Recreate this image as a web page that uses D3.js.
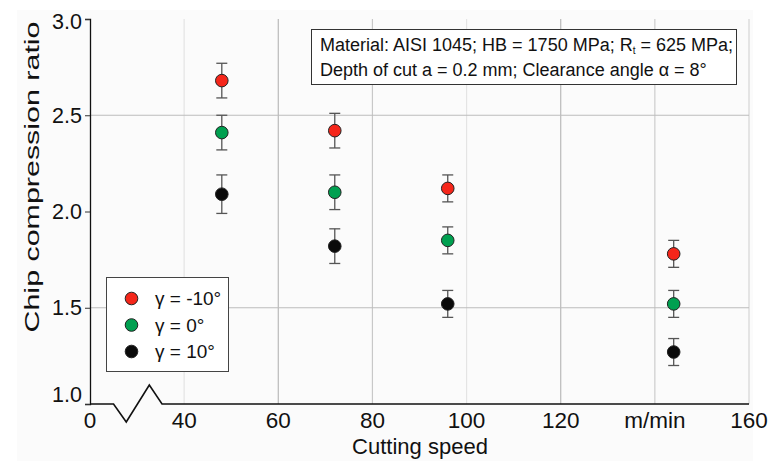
<!DOCTYPE html>
<html><head><meta charset="utf-8">
<script src="https://cdn.jsdelivr.net/npm/d3@7"></script>
<style>body{margin:0;background:#fff}svg{display:block}text{font-family:Arial,"Liberation Sans",sans-serif;fill:#111}</style>
</head><body><svg id="c" width="768" height="466"></svg>
<script>
const speeds = [48, 72, 96, 144];
const ratioNeg10 = [2.68, 2.42, 2.12, 1.78];
const errNeg10 = [0.09, 0.09, 0.07, 0.07];
const ratio0 = [2.41, 2.10, 1.85, 1.52];
const err0 = [0.09, 0.09, 0.07, 0.07];
const ratio10 = [2.09, 1.82, 1.52, 1.27];
const err10 = [0.10, 0.09, 0.07, 0.07];
const seriesNames = ["γ = -10°", "γ = 0°", "γ = 10°"];
const seriesColors = ["#f5261a", "#00a050", "#0a0a0a"];
const xTickValues = [20, 40, 60, 80, 100, 120, 140, 160];
const xTickLabels = ["0", "40", "60", "80", "100", "120", "m/min", "160"];
const yTickValues = [1.0, 1.5, 2.0, 2.5, 3.0];
const yTickLabels = ["1.0", "1.5", "2.0", "2.5", "3.0"];
const yGridValues = [1.5, 2.5];

const svg = d3.select("#c");
const x = d3.scaleLinear().domain([20, 160]).range([90, 749]);
const y = d3.scaleLinear().domain([1, 3]).range([404, 19]);

svg.append("rect").attr("x", 17).attr("y", 10).attr("width", 736).attr("height", 451).attr("fill", "#fbfbfb");

// vertical gridlines
const vGridColor = {40: "#e4e4e4", 60: "#b9b9b9", 80: "#c8c8c8", 100: "#e4e4e4", 120: "#b9b9b9", 140: "#cccccc", 160: "#d6d6d6"};
svg.append("g").selectAll("line").data(xTickValues.filter(v => v > 20)).join("line")
  .attr("x1", d => x(d)).attr("x2", d => x(d)).attr("y1", y(3)).attr("y2", y(1))
  .attr("stroke", d => vGridColor[d]).attr("stroke-width", 1.2);
// horizontal gridlines
svg.append("g").selectAll("line").data(yGridValues).join("line")
  .attr("x1", x(20)).attr("x2", x(160)).attr("y1", d => y(d)).attr("y2", d => y(d))
  .attr("stroke", "#bdbdbd").attr("stroke-width", 1.2);

// y axis
const yAxis = d3.axisLeft(y).tickValues(yTickValues).tickFormat((d, i) => yTickLabels[i]).tickSize(5).tickPadding(3);
const gy = svg.append("g").attr("transform", `translate(${x(20)},0)`).call(yAxis);
gy.select(".domain").attr("stroke", "#111").attr("stroke-width", 1.3);
gy.selectAll(".tick line").attr("stroke", "#333");
gy.selectAll(".tick text").attr("font-size", 21.5).attr("fill", "#111")
  .attr("dy", d => d === 1 ? "-0.1em" : d === 3 ? "0.42em" : "0.32em");

// x axis line with break
const bx = [x(20), x(25), x(27.7), x(32.6), x(35.3), x(160)];
const by = [y(1), y(1), y(1) + 18, y(1) - 19, y(1), y(1)];
svg.append("path").attr("d", d3.line()(bx.map((v, i) => [v, by[i]])))
  .attr("fill", "none").attr("stroke", "#111").attr("stroke-width", 1.6).attr("stroke-linejoin", "miter");

// x tick labels
svg.append("g").selectAll("text").data(xTickValues).join("text")
  .attr("x", d => x(d)).attr("y", 428).attr("text-anchor", "middle").attr("font-size", 22.5)
  .text((d, i) => xTickLabels[i]);

// axis titles
svg.append("text").attr("x", 420).attr("y", 454).attr("text-anchor", "middle").attr("font-size", 22).text("Cutting speed");
svg.append("text").attr("transform", "translate(39,177) rotate(-90)").attr("text-anchor", "middle")
  .attr("font-size", 19.5).attr("textLength", 311).attr("lengthAdjust", "spacingAndGlyphs").text("Chip compression ratio");

// data
const series = [
  {vals: ratioNeg10, errs: errNeg10},
  {vals: ratio0, errs: err0},
  {vals: ratio10, errs: err10}
];
series.forEach((s, si) => {
  const g = svg.append("g");
  const pts = speeds.map((v, i) => ({x: v, y: s.vals[i], e: s.errs[i]}));
  g.selectAll("line.eb").data(pts).join("line").attr("class", "eb")
    .attr("x1", d => x(d.x)).attr("x2", d => x(d.x)).attr("y1", d => y(d.y - d.e)).attr("y2", d => y(d.y + d.e))
    .attr("stroke", "#555").attr("stroke-width", 1.3);
  ["lo", "hi"].forEach(k => {
    g.selectAll("line." + k).data(pts).join("line").attr("class", k)
      .attr("x1", d => x(d.x) - 5.5).attr("x2", d => x(d.x) + 5.5)
      .attr("y1", d => y(k === "lo" ? d.y - d.e : d.y + d.e)).attr("y2", d => y(k === "lo" ? d.y - d.e : d.y + d.e))
      .attr("stroke", "#555").attr("stroke-width", 1.3);
  });
  g.selectAll("circle").data(pts).join("circle")
    .attr("cx", d => x(d.x)).attr("cy", d => y(d.y)).attr("r", 6.3)
    .attr("fill", seriesColors[si]).attr("stroke", "#222").attr("stroke-width", 1);
});

// info box
const ib = svg.append("g");
ib.append("rect").attr("x", 311.5).attr("y", 29.5).attr("width", 425).attr("height", 55)
  .attr("fill", "#ffffff").attr("stroke", "#333").attr("stroke-width", 1);
const t1 = ib.append("text").attr("x", 320).attr("y", 51).attr("font-size", 18);
t1.append("tspan").text("Material: AISI 1045; HB = 1750 MPa; R");
t1.append("tspan").attr("font-size", 10).attr("dy", 3).text("t");
t1.append("tspan").attr("dy", -3).text(" = 625 MPa;");
ib.append("text").attr("x", 320).attr("y", 76).attr("font-size", 18).text("Depth of cut a = 0.2 mm; Clearance angle α = 8°");

// legend
const lg = svg.append("g");
lg.append("rect").attr("x", 106.5).attr("y", 277.5).attr("width", 122).attr("height", 94)
  .attr("fill", "#fff").attr("stroke", "#444").attr("stroke-width", 1);
const ly = [298.5, 325, 351.5];
seriesNames.forEach((n, i) => {
  lg.append("circle").attr("cx", 131.5).attr("cy", ly[i]).attr("r", 6.3)
    .attr("fill", seriesColors[i]).attr("stroke", "#222").attr("stroke-width", 1);
  lg.append("text").attr("x", 155).attr("y", ly[i] + 6.5).attr("font-size", 19).text(n);
});
</script></body></html>
